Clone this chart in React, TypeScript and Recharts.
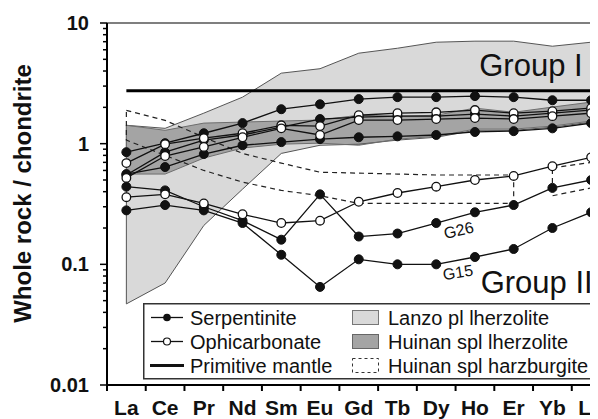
import React from 'react';
import {
  ComposedChart,
  Line,
  Area,
  XAxis,
  YAxis,
  ReferenceLine,
  ReferenceDot,
  Legend,
} from 'recharts';

// ---------- data ----------
const categories = ['La', 'Ce', 'Pr', 'Nd', 'Sm', 'Eu', 'Gd', 'Tb', 'Dy', 'Ho', 'Er', 'Yb', 'Lu'];

// Group I serpentinites (filled)
const serpA = [0.85, 1.01, 1.22, 1.48, 1.93, 2.12, 2.34, 2.43, 2.43, 2.48, 2.43, 2.29, 2.29];
const serpB = [0.55, 0.85, 1.07, 1.18, 1.37, 1.6, 1.66, 1.69, 1.69, 1.76, 1.69, 1.79, 1.9];
const serpC = [0.56, 0.64, 0.82, 0.97, 1.03, 1.09, 1.13, 1.15, 1.18, 1.25, 1.27, 1.34, 1.48];
// Group II serpentinites (filled)
const serpG26 = [0.44, 0.41, 0.3, 0.23, 0.16, 0.38, 0.17, 0.18, 0.22, 0.27, 0.31, 0.43, 0.5];
const serpG15 = [0.28, 0.31, 0.28, 0.22, 0.12, 0.065, 0.11, 0.1, 0.1, 0.115, 0.134, 0.2, 0.27];
// Ophicarbonates (open)
const ophA = [0.69, 0.99, 1.11, 1.22, 1.42, 1.4, 1.72, 1.79, 1.82, 1.9, 1.79, 1.86, 1.97];
const ophB = [0.52, 0.79, 0.94, 1.13, 1.34, 1.18, 1.57, 1.57, 1.6, 1.63, 1.6, 1.69, 1.79];
const ophII = [0.36, 0.38, 0.32, 0.26, 0.22, 0.23, 0.33, 0.39, 0.44, 0.5, 0.54, 0.65, 0.77];
// Primitive mantle
const primitiveMantle = [2.74, 2.74, 2.74, 2.74, 2.74, 2.74, 2.74, 2.74, 2.74, 2.74, 2.74, 2.74, 2.74];
// Lanzo pl lherzolite field
const lanzoUpper = [1.42, 1.34, 1.79, 2.43, 3.84, 4.18, 5.62, 6.18, 6.93, 7.07, 7.07, 6.42, 6.93];
const lanzoLower = [0.047, 0.07, 0.21, 0.42, 0.83, 0.97, 0.99, 1.07, 1.13, 1.29, 1.29, 1.37, 1.51];
// Huinan spl lherzolite field
const huinanLzUpper = [1.42, 1.29, 1.48, 1.51, 1.54, 1.57, 1.72, 1.69, 1.72, 1.97, 1.82, 2.01, 2.21];
const huinanLzLower = [0.56, 0.56, 0.76, 0.92, 0.99, 1.01, 0.97, 1.09, 1.15, 1.32, 1.32, 1.4, 1.54];
// Huinan spl harzburgite field (two pieces: La–Er, Yb–Lu)
const harzUpper = [1.89, 1.56, 1.13, 0.83, 0.69, 0.58, 0.57, 0.56, 0.55, 0.55, 0.55, 0.63, 0.7];
const harzLower = [1.07, 0.8, 0.6, 0.48, 0.41, 0.37, 0.32, 0.32, 0.32, 0.32, 0.32, 0.37, 0.43];
const harzPieces = [
  [0, 10],
  [11, 12],
];

const yTicks = [
  0.01, 0.02, 0.03, 0.04, 0.05, 0.06, 0.07, 0.08, 0.09,
  0.1, 0.2, 0.3, 0.4, 0.5, 0.6, 0.7, 0.8, 0.9,
  1, 2, 3, 4, 5, 6, 7, 8, 9, 10,
];
const yMajor = [0.01, 0.1, 1, 10];
const yMajorLabels = ['0.01', '0.1', '1', '10'];

const legendLeft = ['Serpentinite', 'Ophicarbonate', 'Primitive mantle'];
const legendRight = ['Lanzo pl lherzolite', 'Huinan spl lherzolite', 'Huinan spl harzburgite'];

const annotations = [
  { text: 'Group I', x: 11.78, y: 3.62, size: 31, anchor: 'end', rotate: 0 },
  { text: 'Group II', x: 12.04, y: 0.0577, size: 31, anchor: 'end', rotate: 0 },
  { text: 'G26', x: 8.58, y: 0.192, size: 16, anchor: 'middle', rotate: -13 },
  { text: 'G15', x: 8.56, y: 0.086, size: 16, anchor: 'middle', rotate: -9 },
];

// ---------- layout ----------
const CHART_W = 640;
const CHART_H = 411;
const MARGIN = { top: 15, right: 37.5, bottom: 4, left: 39 };
const Y_AXIS_W = 60;
const X_AXIS_H = 30;
const PLOT_W = CHART_W - MARGIN.left - Y_AXIS_W - MARGIN.right;
const PLOT_H = CHART_H - MARGIN.top - MARGIN.bottom - X_AXIS_H;
const HALF_BAND = PLOT_W / categories.length / 2;
const FONT = '"Liberation Sans", Arial, Helvetica, sans-serif';
const LANZO_FILL = '#d9d9d9';
const HUINAN_FILL = '#a4a4a4';

const rows = categories.map((c, i) => ({
  x: i,
  name: c,
  lanzo: [lanzoLower[i], lanzoUpper[i]],
  huinanLz: [huinanLzLower[i], huinanLzUpper[i]],
  pm: primitiveMantle[i],
  serpA: serpA[i],
  serpB: serpB[i],
  serpC: serpC[i],
  g26: serpG26[i],
  g15: serpG15[i],
  ophA: ophA[i],
  ophB: ophB[i],
  ophII: ophII[i],
}));

const loop = (upper: number[], lower: number[], from: number, to: number) => {
  const pts: { x: number; v: number }[] = [];
  for (let i = from; i <= to; i++) pts.push({ x: i, v: upper[i] });
  for (let i = to; i >= from; i--) pts.push({ x: i, v: lower[i] });
  pts.push({ x: from, v: upper[from] });
  return pts;
};

const XTick = (props: any) => {
  const { x, y, payload } = props;
  const bx = x - HALF_BAND;
  return (
    <g>
      <line x1={bx} x2={bx} y1={y} y2={y + 6} stroke="#000" strokeWidth={2} />
      <text
        x={x}
        y={y + 30}
        textAnchor="middle"
        fontFamily={FONT}
        fontWeight="bold"
        fontSize={21}
        fill="#111"
      >
        {categories[payload.value]}
      </text>
    </g>
  );
};

const YTick = (props: any) => {
  const { x, y, payload } = props;
  const v = payload.value;
  const mi = yMajor.findIndex((m) => Math.abs(m - v) / m < 1e-6);
  const major = mi >= 0;
  return (
    <g>
      <line x1={x - (major ? 7 : 4)} x2={x} y1={y} y2={y} stroke="#000" strokeWidth={1.5} />
      {major && (
        <text
          x={x - 18}
          y={y}
          dy="0.35em"
          textAnchor="end"
          fontFamily={FONT}
          fontWeight="bold"
          fontSize={20}
          fill="#111"
        >
          {yMajorLabels[mi]}
        </text>
      )}
    </g>
  );
};

const YLabel = (props: any) => {
  const vb = props.viewBox || { x: MARGIN.left, y: MARGIN.top, width: Y_AXIS_W, height: PLOT_H };
  const cx = vb.x - 24;
  const cy = vb.y + vb.height / 2 - 10.5;
  return (
    <text
      x={cx}
      y={cy}
      dy="0.35em"
      textAnchor="middle"
      transform={`rotate(-90 ${cx} ${cy})`}
      fontFamily={FONT}
      fontWeight="bold"
      fontSize={24}
      fill="#111"
    >
      Whole rock / chondrite
    </text>
  );
};

const makeAnno = (a: any) => (props: any) => {
  const vb = props.viewBox || { x: 0, y: 0 };
  const x = vb.x + (vb.width || 0) / 2;
  const y = vb.y + (vb.height || 0) / 2;
  return (
    <text
      x={x}
      y={y}
      dy={a.anchor === 'middle' ? '0.35em' : 0}
      textAnchor={a.anchor}
      fontFamily={FONT}
      fontSize={a.size}
      fill="#111"
      transform={a.rotate ? `rotate(${a.rotate} ${x} ${y})` : undefined}
    >
      {a.text}
    </text>
  );
};

const LegendBox = () => {
  const rowsY = [14.5, 38.5, 62.5];
  return (
    <svg width={470} height={77} style={{ display: 'block' }}>
      <rect x={0.75} y={0.75} width={475} height={75} fill="#fff" stroke="#333" strokeWidth={1.5} />
      {/* left column */}
      <line x1={8} x2={40} y1={rowsY[0]} y2={rowsY[0]} stroke="#111" strokeWidth={1.3} />
      <circle cx={24} cy={rowsY[0]} r={3.8} fill="#111" />
      <line x1={8} x2={40} y1={rowsY[1]} y2={rowsY[1]} stroke="#111" strokeWidth={1.3} />
      <circle cx={24} cy={rowsY[1]} r={3.5} fill="#fff" stroke="#111" strokeWidth={1.2} />
      <line x1={7} x2={41} y1={rowsY[2]} y2={rowsY[2]} stroke="#111" strokeWidth={3} />
      {legendLeft.map((t, i) => (
        <text key={t} x={47} y={rowsY[i]} dy="0.35em" fontFamily={FONT} fontSize={20} fill="#111">
          {t}
        </text>
      ))}
      {/* right column */}
      <rect x={209.5} y={rowsY[0] - 7} width={26} height={14} fill={LANZO_FILL} stroke="#777" strokeWidth={1} />
      <rect x={209.5} y={rowsY[1] - 7} width={26} height={14} fill={HUINAN_FILL} stroke="#666" strokeWidth={1} />
      <rect
        x={209.5}
        y={rowsY[2] - 7}
        width={26}
        height={14}
        fill="none"
        stroke="#333"
        strokeWidth={1}
        strokeDasharray="3 3"
      />
      {legendRight.map((t, i) => (
        <text key={t} x={245} y={rowsY[i]} dy="0.35em" fontFamily={FONT} fontSize={20} fill="#111">
          {t}
        </text>
      ))}
    </svg>
  );
};

const filledDot = { r: 4.5, fill: '#111', stroke: '#111', strokeWidth: 1 };
const openDot = { r: 4.3, fill: '#fff', stroke: '#111', strokeWidth: 1.3 };

export default function App() {
  return (
    <div style={{ width: 590, height: CHART_H, overflow: 'hidden', position: 'relative' }}>
      <ComposedChart width={CHART_W} height={CHART_H} data={rows} margin={MARGIN}>
        <XAxis
          type="number"
          dataKey="x"
          domain={[-0.5, categories.length - 0.5]}
          ticks={categories.map((_, i) => i)}
          interval={0}
          allowDataOverflow
          height={X_AXIS_H}
          tickSize={0}
          tickMargin={0}
          tickLine={false}
          axisLine={{ stroke: '#000', strokeWidth: 2 }}
          tick={<XTick />}
        />
        <YAxis
          type="number"
          scale="log"
          domain={[0.01, 10]}
          ticks={yTicks}
          interval={0}
          allowDataOverflow
          width={Y_AXIS_W}
          tickSize={0}
          tickMargin={0}
          tickLine={false}
          axisLine={{ stroke: '#000', strokeWidth: 2 }}
          tick={<YTick />}
          label={{ content: (p: any) => <YLabel {...p} /> }}
        />

        <Area
          type="linear"
          dataKey="lanzo"
          fill={LANZO_FILL}
          fillOpacity={1}
          stroke="none"
          dot={false}
          activeDot={false}
          isAnimationActive={false}
        />
        <Area
          type="linear"
          dataKey="huinanLz"
          fill={HUINAN_FILL}
          fillOpacity={1}
          stroke="none"
          dot={false}
          activeDot={false}
          isAnimationActive={false}
        />
        <Line
          type="linear"
          data={loop(lanzoUpper, lanzoLower, 0, categories.length - 1)}
          dataKey="v"
          stroke="#555"
          strokeWidth={1}
          dot={false}
          activeDot={false}
          isAnimationActive={false}
        />
        <Line
          type="linear"
          data={loop(huinanLzUpper, huinanLzLower, 0, categories.length - 1)}
          dataKey="v"
          stroke="#6e6e6e"
          strokeWidth={1}
          dot={false}
          activeDot={false}
          isAnimationActive={false}
        />
        {harzPieces.map(([a, b]) => (
          <Line
            key={`hz${a}`}
            type="linear"
            data={loop(harzUpper, harzLower, a, b)}
            dataKey="v"
            stroke="#222"
            strokeWidth={1.2}
            strokeDasharray="5 4"
            dot={false}
            activeDot={false}
            isAnimationActive={false}
          />
        ))}
        <ReferenceLine y={10} stroke="#555" strokeWidth={1.5} />
        <Line
          type="linear"
          dataKey="pm"
          stroke="#000"
          strokeWidth={3}
          dot={false}
          activeDot={false}
          isAnimationActive={false}
        />
        {['serpA', 'serpB', 'serpC', 'g26', 'g15'].map((k) => (
          <Line
            key={k}
            type="linear"
            dataKey={k}
            stroke="#111"
            strokeWidth={1.3}
            dot={filledDot}
            activeDot={false}
            isAnimationActive={false}
          />
        ))}
        {['ophA', 'ophB', 'ophII'].map((k) => (
          <Line
            key={k}
            type="linear"
            dataKey={k}
            stroke="#111"
            strokeWidth={1.3}
            dot={openDot}
            activeDot={false}
            isAnimationActive={false}
          />
        ))}
        {annotations.map((a) => (
          <ReferenceDot
            key={a.text}
            x={a.x}
            y={a.y}
            r={0}
            fill="none"
            stroke="none"
            ifOverflow="visible"
            label={{ content: makeAnno(a) }}
          />
        ))}
        <Legend
          layout="vertical"
          align="center"
          verticalAlign="middle"
          wrapperStyle={{ position: 'absolute', left: 135, top: 295, width: 470, height: 77, margin: 0 }}
          content={() => <LegendBox />}
        />
      </ComposedChart>
    </div>
  );
}
